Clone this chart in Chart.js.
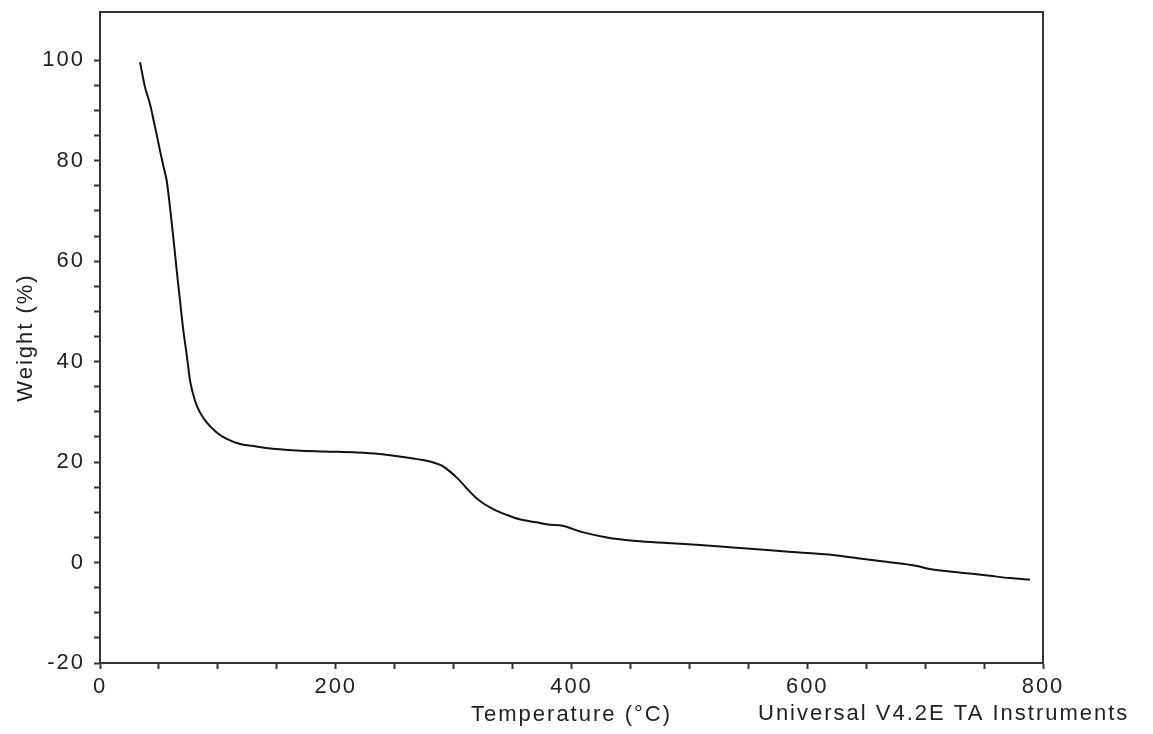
<!DOCTYPE html>
<html>
<head>
<meta charset="utf-8">
<script src="https://cdn.jsdelivr.net/npm/chart.js@4.4.1/dist/chart.umd.min.js"></script>
<style>
  html,body{margin:0;padding:0;background:#fff}
  #wrap{width:1153px;height:734px;position:relative}
</style>
</head>
<body>
<div id="wrap"><canvas id="tga"></canvas></div>
<script>
/* ═══ DATA ═══ */
const TEMP=[34,38.2,42.4,46.7,50.9,53.7,56.6,59.4,62.2,65.1,67.9,70.7,73.5,76.4,80.6,84.8,90.5,99,107.5,118.8,
  130,141,167,190,218,237,254,266,274,283,290,297,304,311,318,325,334,345,356,370,382,390,410,430,455,481,509,
  537,566,594,622,648,665,679,693,704,721,738,755,772,789];
const WEIGHT=[99.6,94.6,91.3,86.7,82.0,79.0,76.0,70.7,64.7,58.1,52.1,46.2,41.5,36.2,32.2,29.9,27.9,25.9,24.6,23.6,
  23.2,22.8,22.3,22.1,21.9,21.6,21.1,20.7,20.4,19.9,19.3,18.1,16.6,14.8,13.1,11.8,10.6,9.5,8.6,8.0,7.5,7.4,6.0,5.0,4.3,3.9,3.5,
  3.0,2.5,2.0,1.5,0.7,0.2,-0.2,-0.7,-1.3,-1.8,-2.2,-2.65,-3.1,-3.4];
const X_LABELS=[0,200,400,600,800];
const Y_LABELS=[-20,0,20,40,60,80,100];
const X_MINOR=50, Y_MINOR=5;
const X_TITLE='Temperature (°C)', Y_TITLE='Weight (%)';
const FOOTNOTE='Universal V4.2E TA Instruments';

const FONT={family:'"Liberation Sans", Arial, sans-serif', size:22};
const INK='#222', AXIS='#333';

// old TA software draws its text a little spaced out
const spacing={id:'spacing',beforeDraw(c){c.ctx.letterSpacing='2px'}};
const footnote={
  id:'footnote',
  afterDraw(c){
    const ctx=c.ctx, a=c.chartArea;
    ctx.save();
    ctx.font=FONT.size+'px '+FONT.family;
    ctx.fillStyle=INK;
    ctx.textAlign='left';ctx.textBaseline='middle';
    ctx.fillText(FOOTNOTE,a.right-285,c.scales.x.bottom-19.6);
    ctx.restore();
  }
};
const keepSteps=step=>s=>{s.ticks=s.ticks.filter(t=>Math.abs(t.value/step-Math.round(t.value/step))<1e-6)};

new Chart(document.getElementById('tga'),{
  type:'scatter',
  data:{datasets:[{
    data:TEMP.map((t,i)=>({x:t,y:WEIGHT[i]})),
    showLine:true, borderColor:'#111', borderWidth:2, pointRadius:0,
    cubicInterpolationMode:'monotone', xAxisID:'x', yAxisID:'y'
  }]},
  options:{
    responsive:true, maintainAspectRatio:false, animation:false,
    layout:{padding:{top:12,right:110,left:0,bottom:0}},
    plugins:{legend:{display:false},tooltip:{enabled:false}},
    scales:{
      x:{type:'linear',position:'bottom',min:0,max:800,
        afterBuildTicks:keepSteps(X_MINOR),
        afterFit:s=>{s.height=71;s.paddingLeft=0;s.paddingRight=0},
        ticks:{stepSize:X_MINOR,autoSkip:false,maxRotation:0,padding:5,color:INK,font:FONT,
          callback:v=>X_LABELS.includes(v)?String(v):''},
        grid:{drawOnChartArea:false,drawTicks:true,tickLength:6,tickColor:AXIS,tickWidth:2},
        border:{display:true,color:AXIS,width:2},
        title:{display:true,text:X_TITLE,color:INK,font:FONT,padding:{top:0,bottom:6}}},
      y:{type:'linear',position:'left',min:-20,max:109.6,
        afterBuildTicks:keepSteps(Y_MINOR),
        afterFit:s=>{s.width=100;s.paddingTop=0;s.paddingBottom=0},
        ticks:{stepSize:Y_MINOR,autoSkip:false,padding:9,color:INK,font:FONT,
          callback:v=>Y_LABELS.includes(v)?String(v):''},
        grid:{drawOnChartArea:false,drawTicks:true,tickLength:6,tickColor:AXIS,tickWidth:2},
        border:{display:true,color:AXIS,width:2},
        title:{display:true,text:Y_TITLE,color:INK,font:FONT,padding:{top:13,bottom:0}}},
      x2:{type:'linear',position:'top',min:0,max:800,
        afterFit:s=>{s.height=0;s.paddingLeft=0;s.paddingRight=0},
        ticks:{display:false},grid:{drawOnChartArea:false,drawTicks:false},
        border:{display:true,color:AXIS,width:2}},
      y2:{type:'linear',position:'right',min:-20,max:109.6,
        afterFit:s=>{s.width=0;s.paddingTop=0;s.paddingBottom=0},
        ticks:{display:false},grid:{drawOnChartArea:false,drawTicks:false},
        border:{display:true,color:AXIS,width:2}}
    }
  },
  plugins:[spacing,footnote]
});
</script>
</body>
</html>
